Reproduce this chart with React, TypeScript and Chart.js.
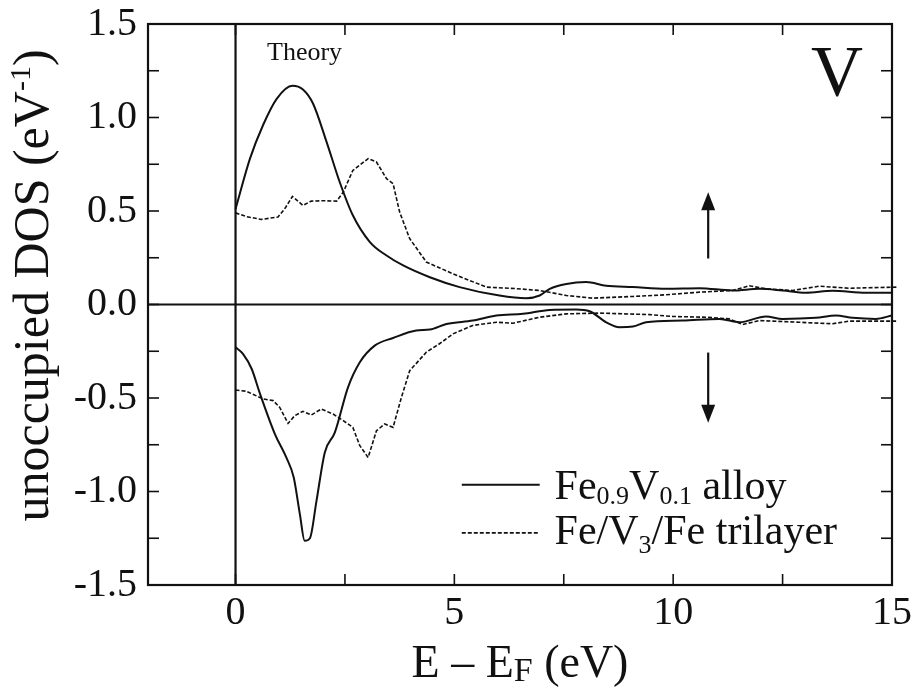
import React, { useEffect, useRef } from 'react';
import { Chart, registerables } from 'chart.js';

Chart.register(...registerables);

const FONT = '"Liberation Serif", "Times New Roman", serif';
const INK = '#111111';

// Axis ranges and ticks
const X_MIN = -2;
const X_MAX = 15;
const Y_MIN = -1.5;
const Y_MAX = 1.5;
const X_TICKS = [0, 2.5, 5, 7.5, 10, 12.5, 15];
const X_LABELED = [0, 5, 10, 15];
const Y_TICKS = [-1.5, -1.25, -1, -0.75, -0.5, -0.25, 0, 0.25, 0.5, 0.75, 1, 1.25, 1.5];
const Y_LABELED = [-1.5, -1, -0.5, 0, 0.5, 1, 1.5];

// Fe0.9V0.1 alloy, spin up
const alloyUpE = [0, 0.33, 0.63, 0.94, 1.3, 1.54, 1.77, 2.08, 2.38, 2.68, 3.07, 3.45, 3.83, 4.44, 5.12, 6.03, 6.64, 6.95, 7.18, 7.56, 8.01, 8.47, 9.08, 9.84, 10.6, 11.36, 11.97, 12.5, 13.03, 13.64, 14.4, 15.0];
const alloyUpDOS = [0.51, 0.78, 0.96, 1.1, 1.17, 1.15, 1.075, 0.87, 0.655, 0.477, 0.334, 0.262, 0.209, 0.146, 0.093, 0.048, 0.034, 0.048, 0.084, 0.11, 0.12, 0.1, 0.093, 0.084, 0.087, 0.075, 0.084, 0.075, 0.063, 0.073, 0.063, 0.063];

// Fe/V3/Fe trilayer, spin up
const trilayerUpE = [0, 0.25, 0.59, 0.97, 1.12, 1.3, 1.54, 1.73, 2.0, 2.31, 2.46, 2.68, 3.03, 3.22, 3.45, 3.6, 3.75, 3.98, 4.36, 4.97, 5.73, 6.4, 6.95, 7.56, 8.16, 9.08, 9.84, 10.6, 11.36, 11.74, 12.12, 12.73, 13.34, 14.02, 15.1];
const trilayerUpDOS = [0.49, 0.47, 0.455, 0.468, 0.51, 0.578, 0.53, 0.553, 0.555, 0.553, 0.6, 0.717, 0.78, 0.762, 0.673, 0.646, 0.494, 0.352, 0.227, 0.164, 0.093, 0.085, 0.075, 0.048, 0.034, 0.043, 0.052, 0.066, 0.075, 0.1, 0.084, 0.075, 0.098, 0.087, 0.093];

// Fe0.9V0.1 alloy, spin down
const alloyDownE = [0, 0.17, 0.37, 0.56, 0.9, 1.16, 1.33, 1.47, 1.58, 1.7, 1.85, 2.04, 2.27, 2.57, 2.84, 3.18, 3.6, 4.13, 4.44, 4.82, 5.42, 5.96, 6.57, 7.18, 7.78, 8.09, 8.47, 8.77, 9.08, 9.38, 10.22, 11.06, 11.51, 12.12, 12.5, 13.26, 13.72, 14.1, 14.63, 15.0];
const alloyDownDOS = [-0.229, -0.264, -0.345, -0.478, -0.693, -0.818, -0.925, -1.121, -1.264, -1.25, -1.05, -0.791, -0.684, -0.443, -0.309, -0.22, -0.179, -0.139, -0.134, -0.104, -0.086, -0.059, -0.05, -0.029, -0.027, -0.036, -0.095, -0.121, -0.118, -0.095, -0.086, -0.077, -0.095, -0.064, -0.077, -0.071, -0.059, -0.071, -0.077, -0.059];

// Fe/V3/Fe trilayer, spin down
const trilayerDownE = [0, 0.25, 0.63, 0.86, 1.01, 1.2, 1.35, 1.54, 1.73, 1.96, 2.23, 2.46, 2.68, 2.84, 3.03, 3.22, 3.41, 3.6, 3.79, 3.98, 4.36, 4.66, 4.97, 5.42, 5.96, 6.34, 6.95, 7.56, 8.32, 9.46, 9.99, 10.75, 11.28, 11.59, 11.97, 12.88, 13.64, 14.02, 15.1];
const trilayerDownDOS = [-0.457, -0.464, -0.505, -0.514, -0.55, -0.636, -0.595, -0.571, -0.591, -0.559, -0.586, -0.621, -0.657, -0.755, -0.818, -0.675, -0.639, -0.657, -0.497, -0.354, -0.255, -0.21, -0.157, -0.112, -0.095, -0.1, -0.068, -0.05, -0.046, -0.054, -0.064, -0.068, -0.077, -0.107, -0.086, -0.095, -0.103, -0.089, -0.089];

// Text
type Part = { t: string; sub?: boolean; sup?: boolean };
const LEGEND_ALLOY: Part[] = [{ t: 'Fe' }, { t: '0.9', sub: true }, { t: 'V' }, { t: '0.1', sub: true }, { t: ' alloy' }];
const LEGEND_TRILAYER: Part[] = [{ t: 'Fe/V' }, { t: '3', sub: true }, { t: '/Fe trilayer' }];
const X_TITLE: Part[] = [{ t: 'E \u2013 E' }, { t: 'F', sub: true }, { t: ' (eV)' }];
const Y_TITLE: Part[] = [{ t: 'unoccupied DOS (eV' }, { t: '-1', sup: true }, { t: ')' }];
const PANEL_NOTE = 'Theory';
const PANEL_ELEMENT = 'V';

const toPoints = (xs: number[], ys: number[]) => xs.map((x, i) => ({ x, y: ys[i] }));

function drawParts(ctx: CanvasRenderingContext2D, parts: Part[], x: number, y: number, size: number, subSize: number, subShift: number, supShift: number, align: 'left' | 'center') {
  const widths = parts.map((p) => {
    ctx.font = `${p.sub || p.sup ? subSize : size}px ${FONT}`;
    return ctx.measureText(p.t).width;
  });
  const total = widths.reduce((a, b) => a + b, 0);
  let cx = align === 'center' ? x - total / 2 : x;
  ctx.textBaseline = 'alphabetic';
  ctx.textAlign = 'left';
  parts.forEach((p, i) => {
    ctx.font = `${p.sub || p.sup ? subSize : size}px ${FONT}`;
    const dy = p.sub ? subShift : p.sup ? -supShift : 0;
    ctx.fillText(p.t, cx, y + dy);
    cx += widths[i];
  });
}

function arrow(ctx: CanvasRenderingContext2D, x: number, y1: number, y2: number) {
  const dir = y2 < y1 ? -1 : 1;
  const head = 14;
  ctx.beginPath();
  ctx.moveTo(x, y1);
  ctx.lineTo(x, y2 - dir * head);
  ctx.stroke();
  ctx.beginPath();
  ctx.moveTo(x, y2);
  ctx.lineTo(x - 7, y2 - dir * (head + 4));
  ctx.lineTo(x + 7, y2 - dir * (head + 4));
  ctx.closePath();
  ctx.fill();
}

const decorPlugin = {
  id: 'decor',
  beforeDatasetsDraw(chart: any) {
    const { ctx, chartArea: a, scales } = chart;
    const xs = scales.x;
    const ys = scales.y;
    const seg = (x1: number, y1: number, x2: number, y2: number) => {
      ctx.beginPath();
      ctx.moveTo(x1, y1);
      ctx.lineTo(x2, y2);
      ctx.stroke();
    };
    ctx.save();
    ctx.strokeStyle = INK;
    ctx.lineWidth = 1.6;
    for (const v of Y_TICKS) {
      const py = ys.getPixelForValue(v);
      seg(a.left, py, a.left + 11, py);
      seg(a.right, py, a.right - 11, py);
    }
    for (const v of X_TICKS) {
      const px = xs.getPixelForValue(v);
      seg(px, a.bottom, px, a.bottom - 11);
      seg(px, a.top, px, a.top + 11);
    }
    ctx.lineWidth = 2.2;
    const x0 = xs.getPixelForValue(0);
    const y0 = ys.getPixelForValue(0);
    seg(a.left, y0, a.right, y0);
    seg(x0, a.top, x0, a.bottom);
    ctx.strokeRect(a.left, a.top, a.right - a.left, a.bottom - a.top);
    ctx.restore();
  },
  afterDraw(chart: any) {
    const { ctx, chartArea: a, scales } = chart;
    const xs = scales.x;
    const ys = scales.y;
    const X = (v: number) => xs.getPixelForValue(v);
    const Y = (v: number) => ys.getPixelForValue(v);
    ctx.save();
    ctx.fillStyle = INK;
    ctx.strokeStyle = INK;

    // Panel texts
    ctx.font = `26px ${FONT}`;
    ctx.textAlign = 'left';
    ctx.textBaseline = 'alphabetic';
    ctx.fillText(PANEL_NOTE, X(0.72), Y(1.307));
    ctx.font = `72px ${FONT}`;
    ctx.textAlign = 'right';
    ctx.fillText(PANEL_ELEMENT, X(14.34), Y(1.12));

    // Spin arrows
    ctx.lineWidth = 2.2;
    arrow(ctx, X(10.8), Y(0.246), Y(0.6));
    arrow(ctx, X(10.8), Y(-0.257), Y(-0.632));

    // Legend
    ctx.lineWidth = 2;
    ctx.beginPath();
    ctx.moveTo(X(5.17), Y(-0.964));
    ctx.lineTo(X(6.95), Y(-0.964));
    ctx.stroke();
    ctx.lineWidth = 1.6;
    ctx.setLineDash([4, 2]);
    ctx.beginPath();
    ctx.moveTo(X(5.17), Y(-1.221));
    ctx.lineTo(X(6.95), Y(-1.221));
    ctx.stroke();
    ctx.setLineDash([]);
    drawParts(ctx, LEGEND_ALLOY, X(7.29), Y(-1.039), 42, 26, 5, 0, 'left');
    drawParts(ctx, LEGEND_TRILAYER, X(7.29), Y(-1.28), 42, 26, 9, 0, 'left');

    // Axis titles
    drawParts(ctx, X_TITLE, (a.left + a.right) / 2, 677, 46, 34, 4, 0, 'center');
    ctx.save();
    ctx.translate(48, (a.top + a.bottom) / 2 - 19);
    ctx.rotate(-Math.PI / 2);
    drawParts(ctx, Y_TITLE, 0, 0, 50, 30, 0, 18, 'center');
    ctx.restore();

    ctx.restore();
  },
};

export default function App() {
  const ref = useRef<HTMLCanvasElement | null>(null);
  useEffect(() => {
    document.body.style.margin = '0';
    const canvas = ref.current;
    if (!canvas) return;
    const solid = { borderColor: INK, borderWidth: 2, pointRadius: 0, showLine: true, fill: false, cubicInterpolationMode: 'monotone' as const };
    const dashed = { borderColor: INK, borderWidth: 1.6, pointRadius: 0, showLine: true, fill: false, borderDash: [4, 2], tension: 0, clip: 6 };
    const chart = new Chart(canvas, {
      type: 'scatter',
      data: {
        datasets: [
          { label: 'Fe0.9V0.1 alloy (up)', data: toPoints(alloyUpE, alloyUpDOS), ...solid },
          { label: 'Fe/V3/Fe trilayer (up)', data: toPoints(trilayerUpE, trilayerUpDOS), ...dashed },
          { label: 'Fe0.9V0.1 alloy (down)', data: toPoints(alloyDownE, alloyDownDOS), ...solid },
          { label: 'Fe/V3/Fe trilayer (down)', data: toPoints(trilayerDownE, trilayerDownDOS), ...dashed },
        ] as any,
      },
      options: {
        responsive: false,
        animation: false,
        events: [],
        layout: { padding: { top: 24, right: 21, left: 0, bottom: 0 } },
        plugins: { legend: { display: false }, tooltip: { enabled: false } },
        scales: {
          x: {
            type: 'linear',
            min: X_MIN,
            max: X_MAX,
            grid: { display: false, drawTicks: false },
            border: { display: false },
            afterBuildTicks: (s: any) => {
              s.ticks = X_TICKS.map((v) => ({ value: v }));
            },
            afterFit: (s: any) => {
              s.height = 103;
              s.paddingLeft = 0;
              s.paddingRight = 0;
            },
            ticks: {
              autoSkip: false,
              maxRotation: 0,
              padding: 4,
              color: INK,
              font: { family: FONT, size: 40 },
              callback: (v: any) => (X_LABELED.includes(Number(v)) ? String(v) : ''),
            },
          },
          y: {
            type: 'linear',
            min: Y_MIN,
            max: Y_MAX,
            grid: { display: false, drawTicks: false },
            border: { display: false },
            afterBuildTicks: (s: any) => {
              s.ticks = Y_TICKS.map((v) => ({ value: v }));
            },
            afterFit: (s: any) => {
              s.width = 148;
              s.paddingTop = 0;
              s.paddingBottom = 0;
            },
            ticks: {
              autoSkip: false,
              padding: 11,
              color: INK,
              font: { family: FONT, size: 40 },
              callback: (v: any) => (Y_LABELED.includes(Number(v)) ? Number(v).toFixed(1) : ''),
            },
          },
        },
      } as any,
      plugins: [decorPlugin],
    });
    return () => chart.destroy();
  }, []);
  return <canvas ref={ref} width={913} height={688} style={{ display: 'block', width: 913, height: 688 }} />;
}
